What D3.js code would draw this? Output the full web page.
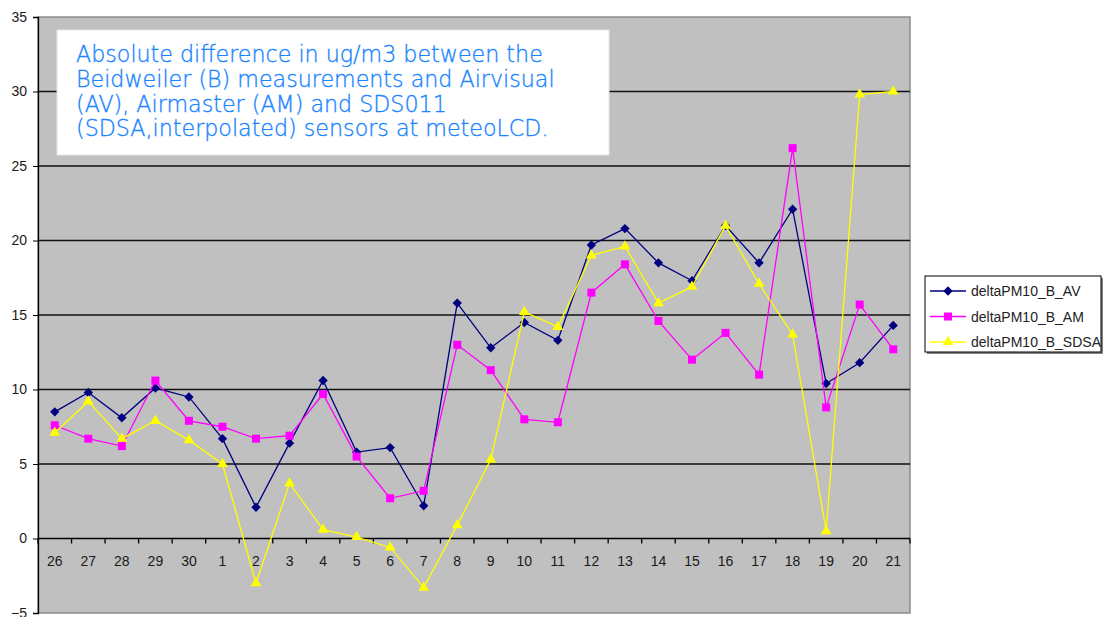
<!DOCTYPE html>
<html>
<head>
<meta charset='utf-8' />
<title>deltaPM10</title>
<style>
  body{ margin:0; background:#fff; }
  svg{ display:block; }
  .tick text{ font-family:'Liberation Sans', Arial, sans-serif; font-size:14px; fill:#1a1a1a; }
</style>
</head>
<body>
<script src="https://d3js.org/d3.v7.min.js"></script>
<script>

// days (end of one month, start of next)
let categories = ['26','27','28','29','30','1','2','3','4','5','6','7','8','9','10','11','12','13','14','15','16','17','18','19','20','21']

let av   = [8.5, 9.8, 8.1, 10.1, 9.5, 6.7, 2.1, 6.4, 10.6, 5.8, 6.1, 2.2, 15.8, 12.8, 14.5, 13.3, 19.7, 20.8, 18.5, 17.3, 21.0, 18.5, 22.1, 10.4, 11.8, 14.3]
let am   = [7.6, 6.7, 6.2, 10.6, 7.9, 7.5, 6.7, 6.9, 9.7, 5.5, 2.7, 3.2, 13.0, 11.3, 8.0, 7.8, 16.5, 18.4, 14.6, 12.0, 13.8, 11.0, 26.2, 8.8, 15.7, 12.7]
let sdsa = [7.1, 9.2, 6.7, 7.9, 6.6, 5.0, -3.0, 3.7, 0.6, 0.1, -0.6, -3.3, 0.9, 5.3, 15.2, 14.2, 19.0, 19.6, 15.8, 16.9, 21.0, 17.1, 13.7, 0.5, 29.8, 30.0]

let seriesNames = ['deltaPM10_B_AV', 'deltaPM10_B_AM', 'deltaPM10_B_SDSA']
let yTicks = [-5, 0, 5, 10, 15, 20, 25, 30, 35]

let titleLines = [
  'Absolute difference in ug/m3 between the',
  'Beidweiler (B) measurements and Airvisual',
  '(AV), Airmaster (AM) and SDS011',
  '(SDSA,interpolated) sensors at meteoLCD.'
]

let width = 1107, height = 617
let pLeft = 38, pRight = 910, pTop = 17, pBottom = 613

let svg = d3.select('body').append('svg').attr('width', width).attr('height', height)

let x = d3.scaleBand().domain(categories).range([pLeft, pRight])
let y = d3.scaleLinear().domain([-5, 35]).range([pBottom, pTop])

let series = [
  {name: seriesNames[0], values: av,   color: '#000080', symbol: d3.symbolDiamond2, size: 56},
  {name: seriesNames[1], values: am,   color: '#ff00ff', symbol: d3.symbolSquare,  size: 64},
  {name: seriesNames[2], values: sdsa, color: '#ffff00', symbol: d3.symbolTriangle, size: 50}
]

// plot background
svg.append('rect')
  .attr('x', pLeft).attr('y', pTop)
  .attr('width', pRight - pLeft).attr('height', pBottom - pTop)
  .style('fill', '#c0c0c0')
  .style('stroke', '#8c8c8c')
  .style('stroke-width', 1.5)

// gridlines
svg.append('g').selectAll('line')
  .data(yTicks.filter(d => d > 0 && d < 35)).enter().append('line')
  .attr('x1', pLeft).attr('x2', pRight)
  .attr('y1', d => y(d)).attr('y2', d => y(d))
  .style('stroke', '#111').style('stroke-width', 1.3)

// y axis
let yAxis = svg.append('g').attr('transform', 'translate(' + pLeft + ',0)')
  .call(d3.axisLeft(y).tickValues(yTicks).tickSize(5).tickPadding(6))
yAxis.select('.domain').style('stroke', '#000').style('stroke-width', 1.3)
yAxis.selectAll('.tick line').style('stroke', '#000')

// x axis, ticks between categories
let xAxis = svg.append('g').attr('transform', 'translate(0,' + y(0) + ')')
xAxis.append('line')
  .attr('x1', pLeft).attr('x2', pRight)
  .style('stroke', '#000').style('stroke-width', 1.3)
xAxis.selectAll('line.tk')
  .data(categories.concat(['end'])).enter().append('line')
  .attr('class', 'tk')
  .attr('x1', (d, i) => pLeft + i * x.step()).attr('x2', (d, i) => pLeft + i * x.step())
  .attr('y1', 0).attr('y2', 5)
  .style('stroke', '#000').style('stroke-width', 1.3)
xAxis.selectAll('text')
  .data(categories).enter().append('text')
  .attr('x', d => x(d) + x.bandwidth() / 2)
  .attr('y', 27)
  .attr('text-anchor', 'middle')
  .style('font-family', "'Liberation Sans', Arial, sans-serif")
  .style('font-size', '14px')
  .style('fill', '#1a1a1a')
  .text(d => d)

// lines + markers
let cx = i => x(categories[i]) + x.bandwidth() / 2
series.forEach(s => {
  let line = d3.line().x((d, i) => cx(i)).y(d => y(d))
  svg.append('path')
    .datum(s.values)
    .attr('d', line)
    .style('fill', 'none')
    .style('stroke', s.color)
    .style('stroke-width', 1.3)
  svg.append('g').selectAll('path')
    .data(s.values).enter().append('path')
    .attr('d', d3.symbol().type(s.symbol).size(s.size))
    .attr('transform', (d, i) => 'translate(' + cx(i) + ',' + y(d) + ')')
    .style('fill', s.color)
})

// title box
svg.append('rect')
  .attr('x', 57).attr('y', 30).attr('width', 552).attr('height', 125)
  .style('fill', '#fff')
  .style('stroke', '#e6e6e6')
let title = svg.append('g')
title.selectAll('text')
  .data(titleLines).enter().append('text')
  .attr('x', 76)
  .attr('y', (d, i) => 62 + i * 24.8)
  .style('font-family', "'DejaVu Sans', Verdana, sans-serif")
  .style('font-weight', 200)
  .style('font-size', '19px')
  .style('fill', '#1a85ff')
  .style('stroke', '#1a85ff')
  .style('stroke-width', 0.35)
  .text(d => d)
// fit first line to its width in the picture
let w0 = title.select('text').node().getComputedTextLength()
title.selectAll('text').style('font-size', (19 * 467 / w0).toFixed(2) + 'px')

// legend
let lg = svg.append('g')
lg.append('rect')
  .attr('x', 927).attr('y', 278).attr('width', 176).attr('height', 76)
  .style('fill', '#808080')
lg.append('rect')
  .attr('x', 925).attr('y', 276).attr('width', 176).attr('height', 76)
  .style('fill', '#fff').style('stroke', '#000').style('stroke-width', 1)
series.forEach((s, i) => {
  let ly = 291 + i * 25.5
  lg.append('line')
    .attr('x1', 930).attr('x2', 966).attr('y1', ly).attr('y2', ly)
    .style('stroke', s.color).style('stroke-width', 1.3)
  lg.append('path')
    .attr('d', d3.symbol().type(s.symbol).size(s.size))
    .attr('transform', 'translate(948,' + ly + ')')
    .style('fill', s.color)
  lg.append('text')
    .attr('x', 971).attr('y', ly + 5)
    .style('font-family', "'Liberation Sans', Arial, sans-serif")
    .style('font-size', '14px')
    .style('fill', '#222')
    .text(s.name)
})

</script>
</body>
</html>
